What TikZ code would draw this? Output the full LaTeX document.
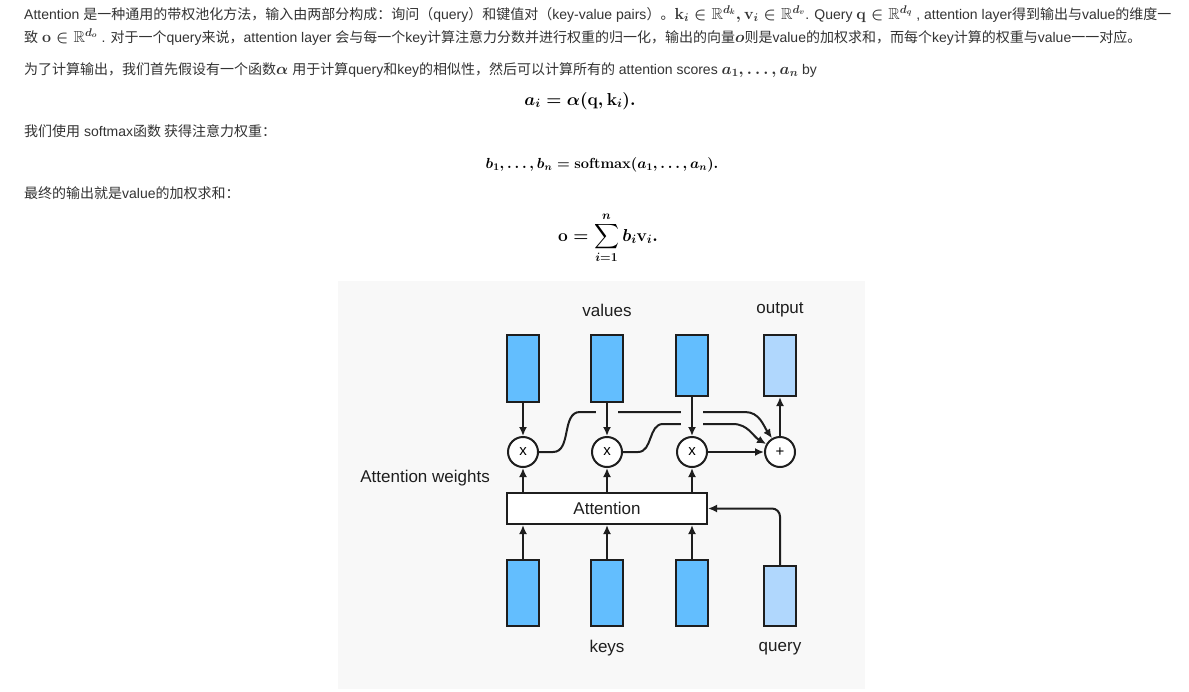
\RequirePackage{fix-cm}
\documentclass[tikz,border=0pt]{standalone}
\usepackage{amsmath}
\usepackage{amssymb}
\usepackage[no-math]{fontspec}
\setmainfont{Liberation Sans}
\newfontfamily\zh{Noto Sans CJK SC}
\usetikzlibrary{arrows.meta}
\newcommand{\cn}[1]{{\zh #1}}
\newcommand{\mm}[1]{{\fontsize{16}{17}\selectfont$#1$}}
\definecolor{panel}{HTML}{F8F8F8}
\definecolor{vecblue}{HTML}{63BEFE}
\definecolor{outblue}{HTML}{B0D7FD}
\definecolor{ink}{HTML}{1E1E1E}
\definecolor{txt}{HTML}{333333}

\begin{document}
\begin{tikzpicture}[x=1pt, y=-1pt,
  para/.style={anchor=base west, inner sep=0pt, text=txt, font=\fontsize{14}{17}\selectfont\boldmath},
  eqn/.style={anchor=base, inner sep=0pt, text=black, font=\fontsize{17.3}{19}\selectfont\boldmath},
  vec/.style={draw=ink, line width=2pt, fill=vecblue, minimum width=32pt, inner sep=0pt},
  op/.style={draw=ink, line width=2pt, fill=white, circle, minimum size=30pt, inner sep=0pt, font=\fontsize{15}{15}\selectfont},
  lbl/.style={text=ink, inner sep=0pt, font=\fontsize{17}{19}\selectfont},
  conn/.style={draw=ink, line width=2pt, -{Latex[length=9pt,width=8pt]}},
  bridge/.style={preaction={draw=panel, line width=22pt, -, shorten <=3pt, shorten >=3pt}}]
\fill[white] (0,0) rectangle (1189,691);
\useasboundingbox (0,0) rectangle (1189,691);

% text above the picture
\node[para] (l1) at (24,19) {Attention \cn{是一种通用的带权池化方法，输入由两部分构成：询问（}query\cn{）和键值对（}key-value pairs\cn{）。}\mm{\mathbf{k}_i \in \mathbb{R}^{d_k}, \mathbf{v}_i \in \mathbb{R}^{d_v}}. Query \mm{\mathbf{q} \in \mathbb{R}^{d_q}} , attention layer\cn{得到输出与}value\cn{的维度一}};
\node[para] (l2) at (24,42) {\cn{致} \mm{\mathbf{o} \in \mathbb{R}^{d_o}} . \cn{对于一个}query\cn{来说，}attention layer \cn{会与每一个}key\cn{计算注意力分数并进行权重的归一化，输出的向量}\mm{o}\cn{则是}value\cn{的加权求和，而每个}key\cn{计算的权重与}value\cn{一一对应。}};
\node[para] (l3) at (24,74) {\cn{为了计算输出，我们首先假设有一个函数}\mm{\alpha} \cn{用于计算}query\cn{和}key\cn{的相似性，然后可以计算所有的} attention scores \mm{a_1, \ldots, a_n} by};
\node[eqn] (e1) at (580,105) {$a_i = \alpha(\mathbf{q}, \mathbf{k}_i).$};
\node[para] (l4) at (24,136) {\cn{我们使用} softmax\cn{函数 获得注意力权重：}};
\node[eqn, font=\fontsize{14.6}{18}\selectfont\boldmath] (e2) at (602,168) {$b_1, \ldots, b_n = \mathrm{softmax}(a_1, \ldots, a_n).$};
\node[para] (l5) at (24,198) {\cn{最终的输出就是}value\cn{的加权求和：}};
\node[eqn] (e3) at (608,241) {$\displaystyle \mathbf{o} = \sum_{i=1}^n b_i \mathbf{v}_i.$};

% the picture
\fill[panel] (338,281) rectangle (865,689);
\node[vec, minimum height=67pt] (v1) at (523,368.5) {};
\node[vec, minimum height=67pt] (v2) at (607,368.5) {};
\node[vec, minimum height=61pt] (v3) at (692,365.5) {};
\node[vec, minimum height=61pt, fill=outblue] (out) at (780,365.5) {};
\node[vec, minimum height=66pt] (k1) at (523,593) {};
\node[vec, minimum height=66pt] (k2) at (607,593) {};
\node[vec, minimum height=66pt] (k3) at (692,593) {};
\node[vec, minimum height=60pt, fill=outblue] (q) at (780,596) {};
\node[op] (m1) at (523,452) {x};
\node[op] (m2) at (607,452) {x};
\node[op] (m3) at (692,452) {x};
\node[op] (plus) at (780,452) {+};
\node[draw=ink, line width=2pt, fill=white, minimum width=200pt, minimum height=31pt, lbl] (att) at (607,508.5) {Attention};
\node[lbl] (lv) at (607,310) {values};
\node[lbl] (lo) at (780,310) {output};
\node[lbl] (lk) at (607,648.5) {keys};
\node[lbl] (lq) at (780,648.5) {query};
\node[lbl, anchor=east] (lw) at (490,478) {Attention weights};

\draw[conn] (m1.east) -- (553,452) to[out=0,in=180] (580,412) -- (745,412) to[out=0,in=125] (plus.120);
\draw[conn] (m2.east) -- (638,452) to[out=0,in=180] (663,424) -- (733,424) to[out=0,in=150] (plus.150);
\draw[conn] (m3) -- (plus);
\draw[conn] (plus) -- (out);
\draw[conn, bridge] (v1) -- (m1);
\draw[conn, bridge] (v2) -- (m2);
\draw[conn, bridge] (v3) -- (m3);
\draw[conn] (m1 |- att.north) -- (m1);
\draw[conn] (m2 |- att.north) -- (m2);
\draw[conn] (m3 |- att.north) -- (m3);
\draw[conn] (k1) -- (k1 |- att.south);
\draw[conn] (k2) -- (k2 |- att.south);
\draw[conn] (k3) -- (k3 |- att.south);
\draw[conn, rounded corners=8pt] (q) |- (att);
\end{tikzpicture}
\end{document}
